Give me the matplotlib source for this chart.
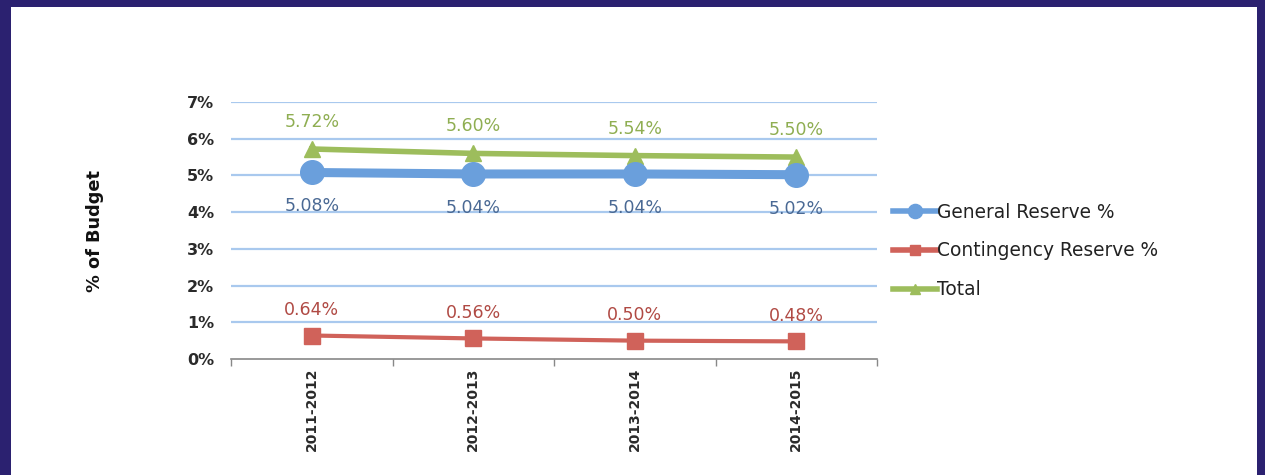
import matplotlib
matplotlib.use("Agg")
import matplotlib.pyplot as plt
from matplotlib.patches import Rectangle
import numpy as np

categories = ["2011-2012", "2012-2013", "2013-2014", "2014-2015"]
general = [5.08, 5.04, 5.04, 5.02]
contingency = [0.64, 0.56, 0.50, 0.48]
total = [5.72, 5.60, 5.54, 5.50]
yticks = [0, 1, 2, 3, 4, 5, 6, 7]

plt.rcParams['font.family'] = ['DejaVu Sans']

fig = plt.figure(figsize=(12.65, 4.75), dpi=100)
fig.patch.set_facecolor('#2b2170')
bg = Rectangle((11/1265, 0), (1257-11)/1265, (475-7)/475,
               transform=fig.transFigure, facecolor='white',
               edgecolor='none', zorder=-10)
fig.patches.append(bg)

ax = fig.add_axes([231/1265, 116/475, 646/1265, 257/475])
ax.set_zorder(2)
ax.set_facecolor('none')
x = np.arange(len(categories))

c_blue = '#6a9fdc'
c_red = '#d0625a'
c_green = '#9dbd5c'

ax.plot(x, total, color=c_green, lw=4, marker='^', ms=12, label='Total', zorder=4)
ax.plot(x, general, color=c_blue, lw=6.5, marker='o', ms=17, label='General Reserve %', zorder=5)
ax.plot(x, contingency, color=c_red, lw=3, marker='s', ms=12, label='Contingency Reserve %', zorder=4)

for i in range(len(x)):
    ax.annotate(f"{total[i]:.2f}%", (x[i], total[i]), xytext=(0, 13), textcoords='offset points',
                ha='center', va='bottom', color='#8fae52', fontsize=12.5)
    ax.annotate(f"{general[i]:.2f}%", (x[i], general[i]), xytext=(0, -18), textcoords='offset points',
                ha='center', va='top', color='#4a6994', fontsize=12.5)
    ax.annotate(f"{contingency[i]:.2f}%", (x[i], contingency[i]), xytext=(0, 12), textcoords='offset points',
                ha='center', va='bottom', color='#b04a44', fontsize=12.5)

ax.set_xlim(-0.5, len(categories) - 0.5)
ax.set_ylim(0, 7)
ax.set_yticks(yticks)
ax.set_yticklabels([f"{t}%" for t in yticks], fontsize=11.5, fontweight='bold', color='#2a2a2a')
ax.set_xticks(x)
ax.set_xticklabels(categories, rotation=90, fontsize=10, fontweight='bold', color='#2a2a2a')
ax.tick_params(axis='x', length=0, pad=6)
ax.set_xticks(np.arange(-0.5, len(categories), 1), minor=True)
ax.tick_params(axis='x', which='minor', length=5, color='#888888', width=1)
ax.tick_params(axis='y', length=0, pad=12)

for t in yticks[1:]:
    ax.axhline(t, color='#a9c9ee', lw=1.6, zorder=1)

for s in ['top', 'right', 'left']:
    ax.spines[s].set_visible(False)
ax.spines['bottom'].set_color('#888888')
ax.spines['bottom'].set_linewidth(1.2)

fig.text(95/1265, 1 - 231/475, '% of Budget', rotation=90, ha='center', va='center',
         fontsize=12.8, fontweight='bold', color='#111111')

handles, labels = ax.get_legend_handles_labels()
order = [1, 2, 0]
leg = fig.legend([handles[i] for i in order], [labels[i] for i in order],
                 loc='center left', bbox_to_anchor=(876/1265, 1 - 251/475),
                 frameon=False, fontsize=13.4, handlelength=2.4, handletextpad=0.0,
                 labelspacing=1.05, markerscale=0.6)
for h in leg.legend_handles:
    h.set_linewidth(4)
for t in leg.get_texts():
    t.set_color('#222222')

fig.savefig('out.png', dpi=100)
